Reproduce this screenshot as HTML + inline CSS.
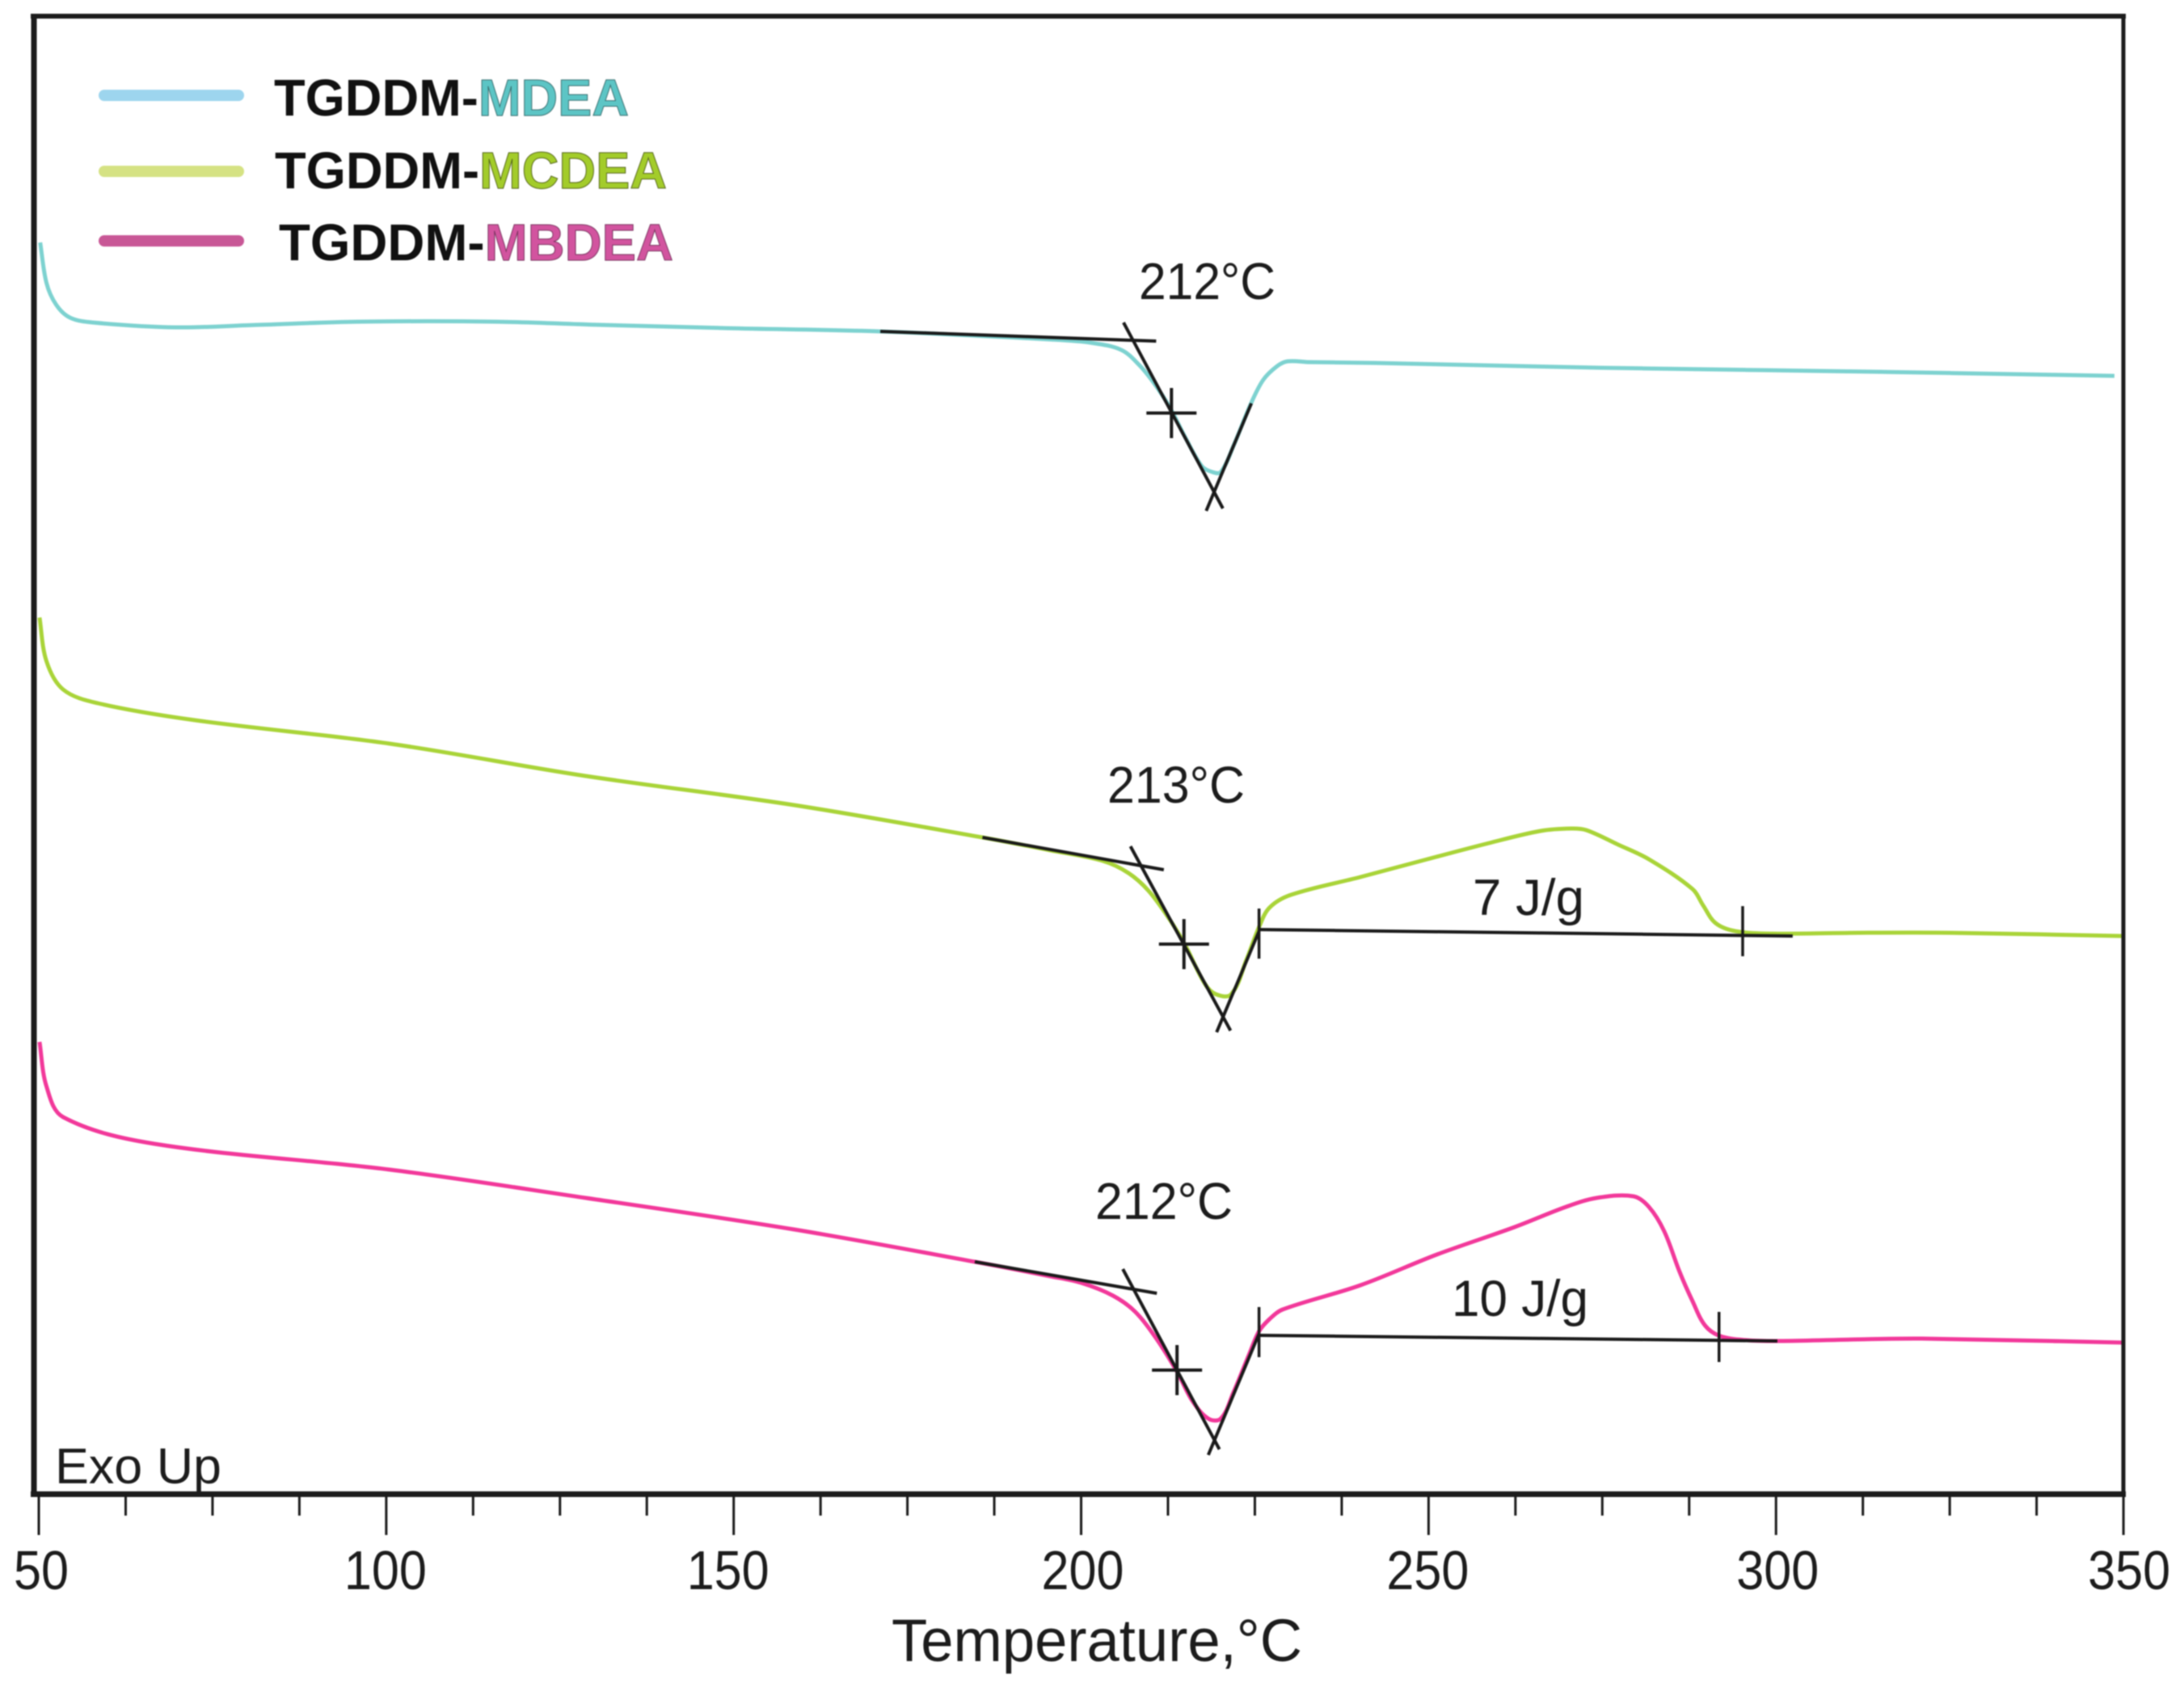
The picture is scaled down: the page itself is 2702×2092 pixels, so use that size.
<!DOCTYPE html>
<html lang="en">
<head>
<meta charset="utf-8">
<title>DSC curves of TGDDM systems</title>
<style>
html,body{margin:0;padding:0;background:#fff;}
svg{display:block;filter:blur(0.7px);}
text{font-family:"Liberation Sans",sans-serif;fill:#1c1c1c;}
</style>
</head>
<body>
<svg id="chart" xmlns="http://www.w3.org/2000/svg" width="2702" height="2092" viewBox="0 0 2702 2092">
  <rect x="0" y="0" width="2702" height="2092" fill="#fff"/>
  <g id="marks"></g>
  <g stroke="#1c1c1c" fill="none">
    <line x1="38" y1="20" x2="2630" y2="20" stroke-width="6"/>
    <line x1="42" y1="17" x2="42" y2="1851" stroke-width="7"/>
    <line x1="2627" y1="17" x2="2627" y2="1851" stroke-width="5"/>
    <line x1="38" y1="1848.5" x2="2630" y2="1848.5" stroke-width="7"/>
  </g>
  <g id="ticks"></g>

  <g>
    <g>
      <line x1="129" y1="118" x2="295" y2="118" stroke="#9dd5ee" stroke-width="14" stroke-linecap="round"/>
      <text x="339" y="143" font-size="64" font-weight="700" textLength="439" lengthAdjust="spacingAndGlyphs" style="fill:#111">TGDDM-<tspan style="fill:#5cc5c5;stroke:#3a6f70;stroke-width:1">MDEA</tspan></text>
    </g>
    <g>
      <line x1="129" y1="212" x2="295" y2="212" stroke="#d5e283" stroke-width="14" stroke-linecap="round"/>
      <text x="340" y="233" font-size="64" font-weight="700" textLength="485" lengthAdjust="spacingAndGlyphs" style="fill:#111">TGDDM-<tspan style="fill:#a3cc2a;stroke:#55661c;stroke-width:1">MCDEA</tspan></text>
    </g>
    <g>
      <line x1="129" y1="298" x2="295" y2="298" stroke="#c85796" stroke-width="14" stroke-linecap="round"/>
      <text x="345" y="322" font-size="64" font-weight="700" textLength="488" lengthAdjust="spacingAndGlyphs" style="fill:#111">TGDDM-<tspan style="fill:#d2549f;stroke:#7a3560;stroke-width:1">MBDEA</tspan></text>
    </g>
  </g>

  <text x="1409" y="370" font-size="64" textLength="169" lengthAdjust="spacingAndGlyphs">212°C</text>
  <text x="1370" y="993" font-size="64" textLength="170" lengthAdjust="spacingAndGlyphs">213°C</text>
  <text x="1355" y="1508" font-size="64" textLength="170" lengthAdjust="spacingAndGlyphs">212°C</text>
  <text x="1822" y="1132" font-size="63" textLength="138" lengthAdjust="spacingAndGlyphs">7 J/g</text>
  <text x="1796" y="1628" font-size="63" textLength="169" lengthAdjust="spacingAndGlyphs">10 J/g</text>
  <text x="68" y="1835" font-size="62" textLength="206" lengthAdjust="spacingAndGlyphs">Exo Up</text>
  <text x="1103" y="2055" font-size="74" textLength="508" lengthAdjust="spacingAndGlyphs">Temperature,°C</text>
</svg>

<script>
// X axis
const majorTicks = [50, 100, 150, 200, 250, 300, 350];
const tickLabels = ['50', '100', '150', '200', '250', '300', '350'];
const minorStep = 12.5;

// Heat-flow traces (temperature in °C, signal in arbitrary units, stacked offset)
const mdeaTemp = [50.2,51.1,52.5,54.5,57.8,69.8,81.2,95.9,115.9,131.2,149.1,171.1,195.6,201.4,205.8,208.4,210.4,212.7,215.1,217.4,218.9,220.1,222.0,224.4,226.2,228.2,229.7,232.9,242.2,274.9,315.0,348.7];
const mdeaFlow = [154.8,149.8,147.1,145.5,144.9,144.3,144.6,145.0,145.0,144.6,144.2,143.8,142.8,142.4,141.5,139.6,137.5,134.5,130.5,127.1,126.4,126.4,129.8,134.8,137.8,139.5,140.1,140.0,139.9,139.3,138.8,138.3];

const mcdeaTemp = [50.1,51.1,53.5,58.5,72.5,100.5,128.7,158.7,185.8,195.6,203.1,206.8,209.7,212.7,214.9,217.8,219.4,221.6,223.8,225.6,227.1,230.2,240.2,249.8,258.7,266.1,270.5,272.7,277.3,281.7,288.0,289.5,291.3,294.2,299.5,311.9,325.0,350.0];
const mcdeaFlow = [108.4,103.0,99.5,97.8,95.7,92.8,88.8,85.2,81.2,79.6,78.3,76.8,74.6,71.1,68.0,63.1,61.8,61.8,66.1,70.1,72.5,74.1,76.3,78.5,80.5,82.0,82.3,82.1,80.3,78.5,74.8,72.8,70.6,69.6,69.3,69.4,69.4,69.0];

const mbdeaTemp = [50.1,51.1,53.5,66.6,100.5,128.7,158.7,184.7,195.6,200.0,204.6,207.8,210.9,213.8,216.0,218.3,220.1,221.9,224.2,225.6,227.1,229.0,240.2,251.2,262.4,269.8,274.2,279.5,281.7,283.9,286.1,288.0,289.8,292.0,295.8,301.0,311.9,321.0,350.0];
const mbdeaFlow = [55.9,50.4,46.6,43.3,40.1,36.6,32.7,28.7,26.9,26.1,24.5,22.5,19.1,15.1,11.5,9.3,9.3,12.5,17.3,20.1,21.6,22.8,25.8,29.6,33.0,35.5,36.6,36.8,35.5,32.5,27.5,23.8,20.8,19.5,19.0,18.9,19.1,19.2,18.7];

// Analysis construction lines: [T1, flow1, T2, flow2]
const tangentLines = [
  [171.1,143.8,210.8,142.6],[206.1,144.9,220.4,121.9],[218.0,121.6,224.5,134.9],
  [185.8,81.2,211.9,77.2],[207.1,80.1,221.5,57.3],[219.5,57.1,225.6,69.6],[225.6,69.8,302.4,69.0],
  [184.7,28.7,210.9,24.8],[206.0,27.8,219.9,5.5],[218.3,4.8,225.6,19.8],[225.6,19.6,300.2,18.9]
];
// Onset crosshair markers: [T, flow]
const onsetMarkers = [[213.0,133.7],[214.8,68.0],[213.8,15.3]];
// Integration limit markers: [T, flow]
const limitMarkers = [[225.6,69.3],[295.2,69.6],[225.6,20.0],[291.8,19.4]];

const xScale = t => 48 + (t - 50) * 8.597;
const yScale = v => 1848 - v * 10;

const NS = 'http://www.w3.org/2000/svg';
const marks = document.getElementById('marks');
const ticks = document.getElementById('ticks');

function smoothPath(xs, ys) {
  const p = xs.map((t, i) => [xScale(t), yScale(ys[i])]);
  let d = 'M' + p[0][0].toFixed(1) + ' ' + p[0][1].toFixed(1);
  for (let i = 0; i < p.length - 1; i++) {
    const a = p[Math.max(i - 1, 0)], b = p[i], c = p[i + 1], e = p[Math.min(i + 2, p.length - 1)];
    const segLen = Math.hypot(c[0] - b[0], c[1] - b[1]);
    const lenB = Math.hypot(c[0] - a[0], c[1] - a[1]) || 1;
    const lenC = Math.hypot(e[0] - b[0], e[1] - b[1]) || 1;
    const h = segLen / 3;
    d += ' C' + (b[0] + (c[0] - a[0]) / lenB * h).toFixed(1) + ' ' + (b[1] + (c[1] - a[1]) / lenB * h).toFixed(1) +
         ' ' + (c[0] - (e[0] - b[0]) / lenC * h).toFixed(1) + ' ' + (c[1] - (e[1] - b[1]) / lenC * h).toFixed(1) +
         ' ' + c[0].toFixed(1) + ' ' + c[1].toFixed(1);
  }
  return d;
}

function drawSeries(name, xs, ys, color) {
  const path = document.createElementNS(NS, 'path');
  
  
  path.setAttribute('d', smoothPath(xs, ys));
  path.setAttribute('fill', 'none');
  path.setAttribute('stroke', color);
  path.setAttribute('stroke-width', '5');
  path.setAttribute('stroke-linejoin', 'round');
  marks.appendChild(path);
}

drawSeries('curve-mdea', mdeaTemp, mdeaFlow, '#7dd2d0');
drawSeries('curve-mcdea', mcdeaTemp, mcdeaFlow, '#a9d438');
drawSeries('curve-mbdea', mbdeaTemp, mbdeaFlow, '#f2389a');

function blackLine(name, x1, y1, x2, y2, w) {
  const l = document.createElementNS(NS, 'line');
  
  
  l.setAttribute('x1', x1);
  l.setAttribute('y1', y1);
  l.setAttribute('x2', x2);
  l.setAttribute('y2', y2);
  l.setAttribute('stroke', '#1a1a1a');
  l.setAttribute('stroke-width', w);
  return l;
}

tangentLines.forEach(s => {
  marks.appendChild(blackLine('tangent-line', xScale(s[0]), yScale(s[1]), xScale(s[2]), yScale(s[3]), 4));
});
onsetMarkers.forEach(m => {
  const x = xScale(m[0]), y = yScale(m[1]);
  marks.appendChild(blackLine('onset-marker-horizontal', x - 31, y, x + 31, y, 4));
  marks.appendChild(blackLine('onset-marker-vertical', x, y - 31, x, y + 31, 4));
});
limitMarkers.forEach(m => {
  const x = xScale(m[0]), y = yScale(m[1]);
  marks.appendChild(blackLine('integration-limit-tick', x, y - 31, x, y + 31, 3.5));
});

// Minor ticks
for (let t = majorTicks[0]; t <= majorTicks[majorTicks.length - 1]; t += minorStep) {
  if (majorTicks.includes(t)) continue;
  ticks.appendChild(blackLine('x-minor-tick', xScale(t), 1848, xScale(t), 1875, 3));
}
// Major ticks and labels
const labelNudge = [3, -1, -7, 2, -1, 2, 7];
majorTicks.forEach((t, i) => {
  ticks.appendChild(blackLine('x-major-tick', xScale(t), 1848, xScale(t), 1899, 3));
  const label = document.createElementNS(NS, 'text');
  
  
  label.setAttribute('x', xScale(t) + labelNudge[i]);
  label.setAttribute('y', 1966);
  label.setAttribute('font-size', '68');
  label.setAttribute('text-anchor', 'middle');
  label.setAttribute('textLength', tickLabels[i].length * 34);
  label.setAttribute('lengthAdjust', 'spacingAndGlyphs');
  label.textContent = tickLabels[i];
  ticks.appendChild(label);
});
</script>
</body>
</html>
